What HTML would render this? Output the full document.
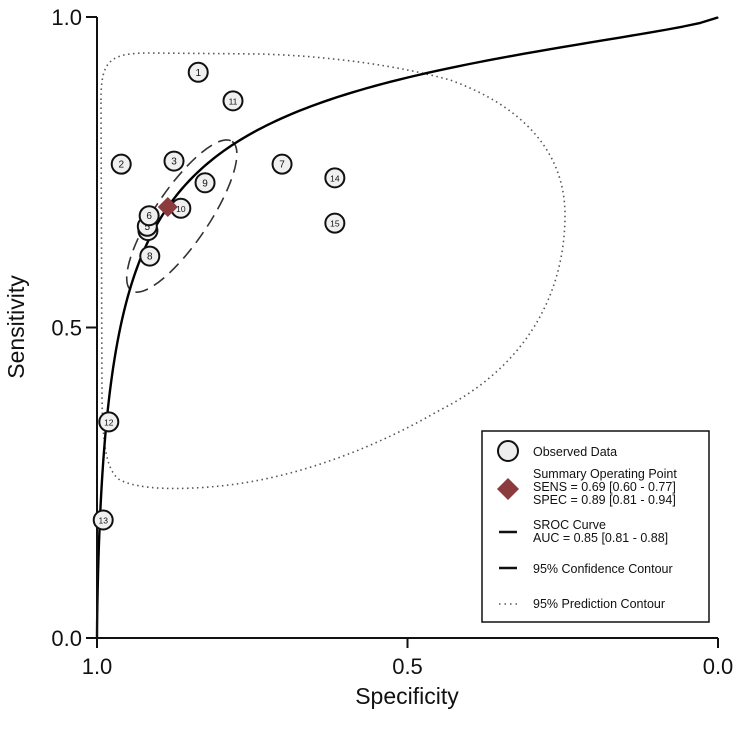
<!DOCTYPE html>
<html><head><meta charset="utf-8"><style>
body{margin:0;background:#fff}
svg text{font-family:"Liberation Sans",Arial,sans-serif}
</style></head><body>
<svg id="c" width="744" height="725" viewBox="0 0 744 725" xmlns="http://www.w3.org/2000/svg">
<g id="plot"></g>
</svg>
<script>
const studyIds=[1,2,3,4,5,6,7,8,9,10,11,12,13,14,15];
const studySpec=[0.837,0.961,0.876,0.918,0.919,0.916,0.702,0.915,0.826,0.865,0.781,0.981,0.990,0.617,0.617];
const studySens=[0.911,0.763,0.768,0.656,0.663,0.680,0.763,0.615,0.733,0.692,0.865,0.348,0.190,0.741,0.668];
const summarySpec=0.886, summarySens=0.694;
const srocA=2.225, srocB=0.686;
const tickVals=[1.0,0.5,0.0];
const tickLabels=["1.0","0.5","0.0"];
const yTickVals=[0.0,0.5,1.0];
const yTickLabels=["0.0","0.5","1.0"];

const X0=97,X1=718,Y0=638,Y1=17;
const xs=s=>X0+(1-s)*(X1-X0);
const ys=v=>Y0-v*(Y0-Y1);
const NS="http://www.w3.org/2000/svg";
const g=document.getElementById('plot');
function mk(t,a,p){const e=document.createElementNS(NS,t);for(const k in a)e.setAttribute(k,a[k]);(p||g).appendChild(e);return e;}

// prediction contour
let e=mk('path',{d:"M101,100 C101,60 110,53 150,53 L260,54 C330,56 400,66 450,80 C520,105 565,150 565,215 C565,300 520,370 440,410 C380,445 300,478 220,486 C180,490 140,490 120,480 C105,470 103,440 102,400 Z",fill:"none",stroke:"#555","stroke-width":1.6,"stroke-dasharray":"1.5 3.5"});



// confidence contour
e=mk('ellipse',{cx:xs(summarySpec)+14,cy:ys(summarySens)+9,rx:90,ry:27,transform:`rotate(-56 ${xs(summarySpec)+14} ${ys(summarySens)+9})`,fill:"none",stroke:"#333","stroke-width":1.6,"stroke-dasharray":"13 7"});



// SROC curve
let d=`M${xs(1)},${ys(0)}`;
for(let i=0;i<=400;i++){const f=Math.pow(10,-5+5*i/400);const fp=Math.min(f,0.999);const l=srocA+srocB*Math.log(fp/(1-fp));const s=1/(1+Math.exp(-l));d+=` L${xs(1-fp).toFixed(2)},${ys(s).toFixed(2)}`;}
d+=` L${xs(0)},${ys(1)}`;
e=mk('path',{d,fill:"none",stroke:"#000","stroke-width":2.4,"stroke-linejoin":"round"});



// axes
e=mk('line',{x1:X0,y1:Y1,x2:X0,y2:Y0+10,stroke:"#111","stroke-width":2});


e=mk('line',{x1:X0-11,y1:Y0,x2:X1,y2:Y0,stroke:"#111","stroke-width":2});


tickVals.forEach((v,i)=>{
 let t=mk('line',{x1:xs(v),y1:Y0,x2:xs(v),y2:Y0+10,stroke:"#111","stroke-width":2});
 
 
 t=mk('text',{x:xs(v),y:Y0+36,"text-anchor":"middle","font-size":22,fill:"#111"});t.textContent=tickLabels[i];
 
 
});
yTickVals.forEach((v,i)=>{
 let t=mk('line',{x1:X0-11,y1:ys(v),x2:X0,y2:ys(v),stroke:"#111","stroke-width":2});
 
 
 t=mk('text',{x:X0-15,y:ys(v)+8,"text-anchor":"end","font-size":22,fill:"#111"});t.textContent=yTickLabels[i];
 
 
});
e=mk('text',{x:407,y:704,"text-anchor":"middle","font-size":23,fill:"#111"});e.textContent="Specificity";


e=mk('text',{x:24,y:327,"text-anchor":"middle","font-size":23,fill:"#111",transform:"rotate(-90 24 327)"});e.textContent="Sensitivity";



// study points
studyIds.forEach((id,i)=>{
 const cx=xs(studySpec[i]),cy=ys(studySens[i]);
 let c=mk('circle',{cx,cy,r:9.5,fill:"#f0f0f0",stroke:"#111","stroke-width":2});
 
 
 let t=mk('text',{x:cx,y:cy+3.5,"text-anchor":"middle","font-size":id>9?8.5:10,fill:"#111"});t.textContent=id;
 
 
});

// summary point
{const cx=xs(summarySpec),cy=ys(summarySens),h=10;
 e=mk('polygon',{points:`${cx},${cy-h} ${cx+h},${cy} ${cx},${cy+h} ${cx-h},${cy}`,fill:"#8b3a3e"});
 
 }

// legend
const lg=mk('g',{});


mk('rect',{x:482,y:431,width:227,height:191,fill:"#fff",stroke:"#111","stroke-width":1.5},lg);
mk('circle',{cx:508,cy:451,r:10,fill:"#eee",stroke:"#111","stroke-width":2},lg);
mk('polygon',{points:"508,478 519,489 508,500 497,489",fill:"#8b3a3e"},lg);
mk('line',{x1:499,y1:532,x2:517,y2:532,stroke:"#111","stroke-width":2.5},lg);
mk('line',{x1:499,y1:568,x2:517,y2:568,stroke:"#111","stroke-width":2.5},lg);
mk('line',{x1:499,y1:604,x2:517,y2:604,stroke:"#555","stroke-width":1.5,"stroke-dasharray":"1.5 4"},lg);
const lines=[["Observed Data",456],["Summary Operating Point",478],["SENS = 0.69 [0.60 - 0.77]",491],["SPEC = 0.89 [0.81 - 0.94]",504],["SROC Curve",529],["AUC = 0.85 [0.81 - 0.88]",542],["95% Confidence Contour",573],["95% Prediction Contour",608]];
lines.forEach(([s,y])=>{const t=mk('text',{x:533,y,"font-size":12.5,fill:"#111"},lg);t.textContent=s;
 
 });
</script>
</body></html>
